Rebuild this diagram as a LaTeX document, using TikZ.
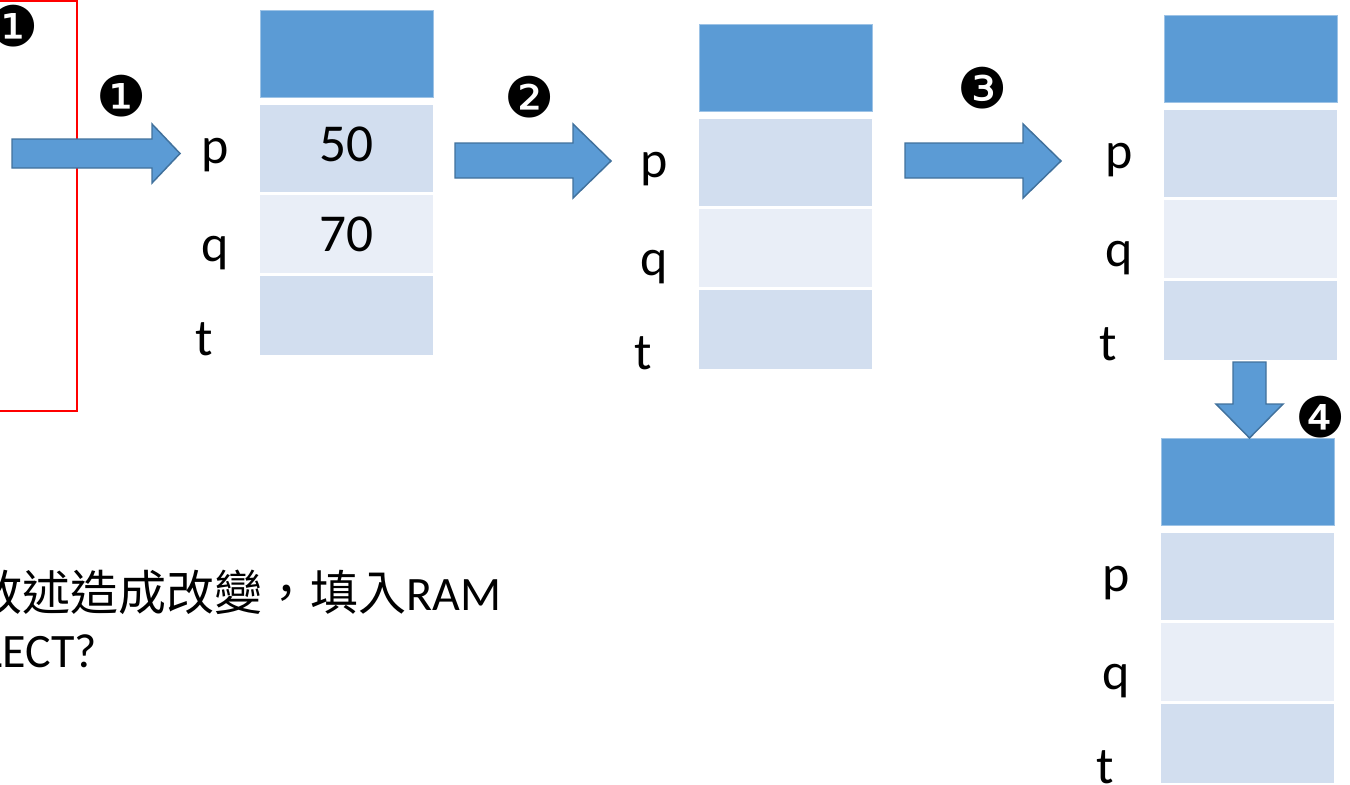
\documentclass[tikz,border=0pt]{standalone}
\usepackage{fontspec}
\setmainfont{Carlito}
\newfontfamily\cjkfont{Noto Sans CJK TC}
\newfontfamily\dingfont{DejaVu Sans}
\usetikzlibrary{positioning,calc}

\definecolor{hdrblue}{RGB}{91,155,213}
\definecolor{hdredge}{RGB}{157,195,230}
\definecolor{celldark}{RGB}{210,222,239}
\definecolor{celllight}{RGB}{233,238,247}
\definecolor{arrowedge}{RGB}{65,113,156}

\tikzset{
  box/.style={minimum width=129.75pt, inner sep=0pt, outer sep=0pt, font=\fontsize{40}{40}\selectfont},
  hdr/.style={box, fill=hdrblue, draw=hdredge, line width=0.5pt, minimum height=65.25pt},
  pcell/.style={box, fill=celldark, minimum height=65.25pt, text depth=6pt},
  qcell/.style={box, fill=celllight, minimum height=58.5pt},
  tcell/.style={box, fill=celldark, minimum height=59.25pt},
  varname/.style={anchor=base, inner sep=0pt, font=\fontsize{39}{39}\selectfont},
  stepno/.style={inner sep=0pt, font=\dingfont\fontsize{42}{42}\selectfont},
  blockarrow/.style={fill=hdrblue, draw=arrowedge, line width=1.1pt, line join=miter},
  question/.style={anchor=base east, inner sep=0pt, font=\fontsize{36}{36}\selectfont}
}

\begin{document}
\begin{tikzpicture}[x=0.75pt,y=0.75pt,yscale=-1,xscale=1]
        \path [use as bounding box] (0,0) rectangle (1350,785);
        \clip (0,0) rectangle (1350,785);

        % red frame, cut by the left edge
        \draw [color=red, line width=1.1pt] (-20,1) -- (77,1) -- (77,411) -- (-20,411);

        % memory before step 1
        \node [hdr, anchor=north west] (c1h) at (260,10) {};
        \node [pcell, below=6pt of c1h] (c1p) {50};
        \node [qcell, below=2.25pt of c1p] (c1q) {70};
        \node [tcell, below=2.25pt of c1q] (c1t) {};
        \node [varname] (p1) at ($(c1p.south west)+(-45,-29)$) {p};
        \node [varname] (q1) at ($(c1q.south west)+(-45,-12)$) {q};
        \node [varname] (t1) at ($(c1t.south west)+(-56,0)$) {t};

        % after step 2
        \node [hdr, anchor=north west] (c2h) at (699,24) {};
        \node [pcell, below=6pt of c2h] (c2p) {};
        \node [qcell, below=2.25pt of c2p] (c2q) {};
        \node [tcell, below=2.25pt of c2q] (c2t) {};
        \node [varname] (p2) at ($(c2p.south west)+(-45,-29)$) {p};
        \node [varname] (q2) at ($(c2q.south west)+(-45,-12)$) {q};
        \node [varname] (t2) at ($(c2t.south west)+(-56,0)$) {t};

        % after step 3
        \node [hdr, anchor=north west] (c3h) at (1164,15) {};
        \node [pcell, below=6pt of c3h] (c3p) {};
        \node [qcell, below=2.25pt of c3p] (c3q) {};
        \node [tcell, below=2.25pt of c3q] (c3t) {};
        \node [varname] (p3) at ($(c3p.south west)+(-45,-29)$) {p};
        \node [varname] (q3) at ($(c3q.south west)+(-45,-12)$) {q};
        \node [varname] (t3) at ($(c3t.south west)+(-56,0)$) {t};

        % after step 4
        \node [hdr, anchor=north west] (c4h) at (1161,438) {};
        \node [pcell, below=6pt of c4h] (c4p) {};
        \node [qcell, below=2.25pt of c4p] (c4q) {};
        \node [tcell, below=2.25pt of c4q] (c4t) {};
        \node [varname] (p4) at ($(c4p.south west)+(-45,-29)$) {p};
        \node [varname] (q4) at ($(c4q.south west)+(-45,-12)$) {q};
        \node [varname] (t4) at ($(c4t.south west)+(-56,0)$) {t};

        % block arrows
        \draw [blockarrow] (12,139) -- (152,139) -- (152,124) -- (180,153.5) -- (152,183) -- (152,168) -- (12,168) -- cycle;
        \draw [blockarrow] (455,143) -- (573,143) -- (573,124) -- (611,161) -- (573,198) -- (573,178) -- (455,178) -- cycle;
        \draw [blockarrow] (905,143) -- (1023,143) -- (1023,124) -- (1061,161) -- (1023,198) -- (1023,178) -- (905,178) -- cycle;
        \draw [blockarrow] (1233,362) -- (1266,362) -- (1266,404) -- (1283,404) -- (1249.5,438) -- (1216,404) -- (1233,404) -- cycle;

        % step numbers
        \node [stepno] (s1a) at (14,26) {❶};
        \node [stepno] (s1b) at (122,96) {❶};
        \node [stepno] (s2) at (530,97) {❷};
        \node [stepno] (s3) at (983,88) {❸};
        \node [stepno] (s4) at (1321,417) {❹};

        % question, cut by the left edge
        \node [question] (line1) at (502,610) {{\cjkfont 敘述造成改變，填入}RAM};
        \node [question] (line2) at (97,667) {SELECT?};
\end{tikzpicture}
\end{document}
